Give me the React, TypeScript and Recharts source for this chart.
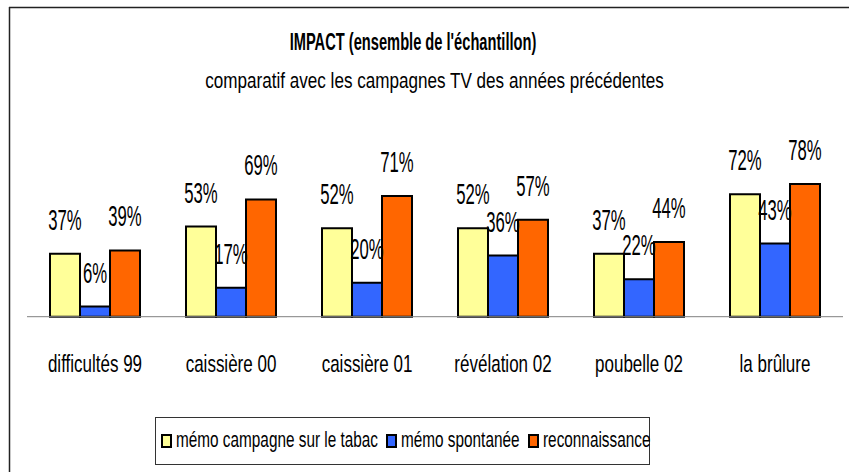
import React from 'react';
import { BarChart, Bar, XAxis, YAxis, LabelList, Legend } from 'recharts';

const categories = ['difficultés 99', 'caissière 00', 'caissière 01', 'révélation 02', 'poubelle 02', 'la brûlure'];
const memoCampagne = [37, 53, 52, 52, 37, 72];
const memoSpontanee = [6, 17, 20, 36, 22, 43];
const reconnaissance = [39, 69, 71, 57, 44, 78];
const seriesKeys = ['campagne', 'spontanee', 'reconnaissance'];
const seriesNames = ['mémo campagne sur le tabac', 'mémo spontanée', 'reconnaissance'];
const seriesColors = ['#FFFF99', '#3366FF', '#FF6600'];
const boundaryTicks = [0, 1, 2, 3, 4, 5, 6];
const titleText = "IMPACT (ensemble de l'échantillon)";
const subtitleText = 'comparatif avec les campagnes TV des années précédentes';

const data = categories.map((c, i) => ({
  name: c,
  campagne: memoCampagne[i],
  spontanee: memoSpontanee[i],
  reconnaissance: reconnaissance[i],
}));

const FONT = "'Liberation Sans', Arial, sans-serif";
const W = 849;
const H = 472;

let canvasCtx: CanvasRenderingContext2D | null = null;
function measure(text: string, font: string): number {
  if (!canvasCtx) canvasCtx = document.createElement('canvas').getContext('2d');
  if (!canvasCtx) return text.length * 8;
  canvasCtx.font = font;
  return canvasCtx.measureText(text).width;
}

const CategoryTick = (props: any) => {
  const { x, y, payload } = props;
  return (
    <text
      transform={`translate(${x},${y + 47.5}) scale(0.85,1.21)`}
      textAnchor="middle"
      fontFamily={FONT}
      fontSize={20}
      fill="#000"
    >
      {payload.value}
    </text>
  );
};

const ValueLabel = (props: any) => {
  const { x, y, width, value } = props;
  return (
    <text
      transform={`translate(${x + width / 2},${y - 24}) scale(0.76,1.35)`}
      textAnchor="middle"
      fontFamily={FONT}
      fontSize={22}
      fill="#000"
    >
      {value}%
    </text>
  );
};

const LEG_SIZE = 18;
const LEG_SX = 0.852;
const LEG_SY = 1.2;

const LegendContent = () => (
  <div
    style={{
      width: '100%',
      height: '100%',
      boxSizing: 'border-box',
      border: '1px solid #333',
      background: '#fff',
      display: 'flex',
      alignItems: 'center',
      paddingLeft: 5,
      fontFamily: FONT,
      fontSize: LEG_SIZE,
      color: '#000',
      whiteSpace: 'nowrap',
    }}
  >
    {seriesNames.map((n, i) => {
      const w = measure(n, `${LEG_SIZE}px 'Liberation Sans'`) * LEG_SX;
      return (
        <span key={n} style={{ display: 'inline-flex', alignItems: 'center', marginRight: i < 2 ? 8 : 0 }}>
          <span
            style={{
              display: 'inline-block',
              width: 7,
              height: 10,
              background: seriesColors[i],
              border: '2.5px solid #000',
              marginRight: 4,
            }}
          />
          <span style={{ display: 'inline-block', width: w, height: 24, lineHeight: '24px', position: 'relative' }}>
            <span
              style={{
                position: 'absolute',
                left: 0,
                top: -1,
                transformOrigin: '0 50%',
                transform: `scale(${LEG_SX},${LEG_SY})`,
              }}
            >
              {n}
            </span>
          </span>
        </span>
      );
    })}
  </div>
);

export default function App() {
  return (
    <div style={{ position: 'absolute', left: 0, top: 0, width: W, height: H, background: '#fff', overflow: 'hidden' }}>
      <svg width={W} height={H} style={{ position: 'absolute', left: 0, top: 0 }}>
        <line x1={9} y1={7.5} x2={W} y2={7.5} stroke="#222" strokeWidth={1.5} />
        <line x1={9.5} y1={7} x2={9.5} y2={H} stroke="#222" strokeWidth={1.5} />
        <text
          transform="translate(413,50) scale(0.772,1.3)"
          textAnchor="middle"
          fontFamily={FONT}
          fontWeight="bold"
          fontSize={19}
          fill="#000"
        >
          {titleText}
        </text>
        <text
          transform="translate(434.5,88.3) scale(0.855,1.14)"
          textAnchor="middle"
          fontFamily={FONT}
          fontSize={20}
          fill="#000"
        >
          {subtitleText}
        </text>
      </svg>
      <div style={{ position: 'absolute', left: 0, top: 0 }}>
        <BarChart
          width={W}
          height={H}
          data={data}
          margin={{ top: 146.7, right: 6, bottom: 115.3, left: 27 }}
          barGap={0}
          barCategoryGap="17%"
        >
          <XAxis
            dataKey="name"
            xAxisId="cat"
            height={40}
            tickLine={false}
            axisLine={{ stroke: '#808080', strokeWidth: 1 }}
            tick={<CategoryTick />}
            interval={0}
          />
          <XAxis
            xAxisId="bounds"
            type="number"
            domain={[0, categories.length]}
            ticks={boundaryTicks}
            allowDataOverflow
            height={0}
            axisLine={false}
            tick={false}
            tickSize={7}
            tickLine={{ stroke: '#808080', strokeWidth: 1 }}
          />
          <YAxis hide domain={[0, 100]} />
          {seriesKeys.map((k, i) => (
            <Bar
              key={k}
              xAxisId="cat"
              dataKey={k}
              name={seriesNames[i]}
              fill={seriesColors[i]}
              stroke="#000"
              strokeWidth={2}
              barSize={30}
              isAnimationActive={false}
            >
              <LabelList dataKey={k} content={<ValueLabel />} />
            </Bar>
          ))}
          <Legend
            verticalAlign="middle"
            align="center"
            content={<LegendContent />}
            wrapperStyle={{ position: 'absolute', left: 155, top: 417, width: 495, height: 48 }}
          />
        </BarChart>
      </div>
    </div>
  );
}
